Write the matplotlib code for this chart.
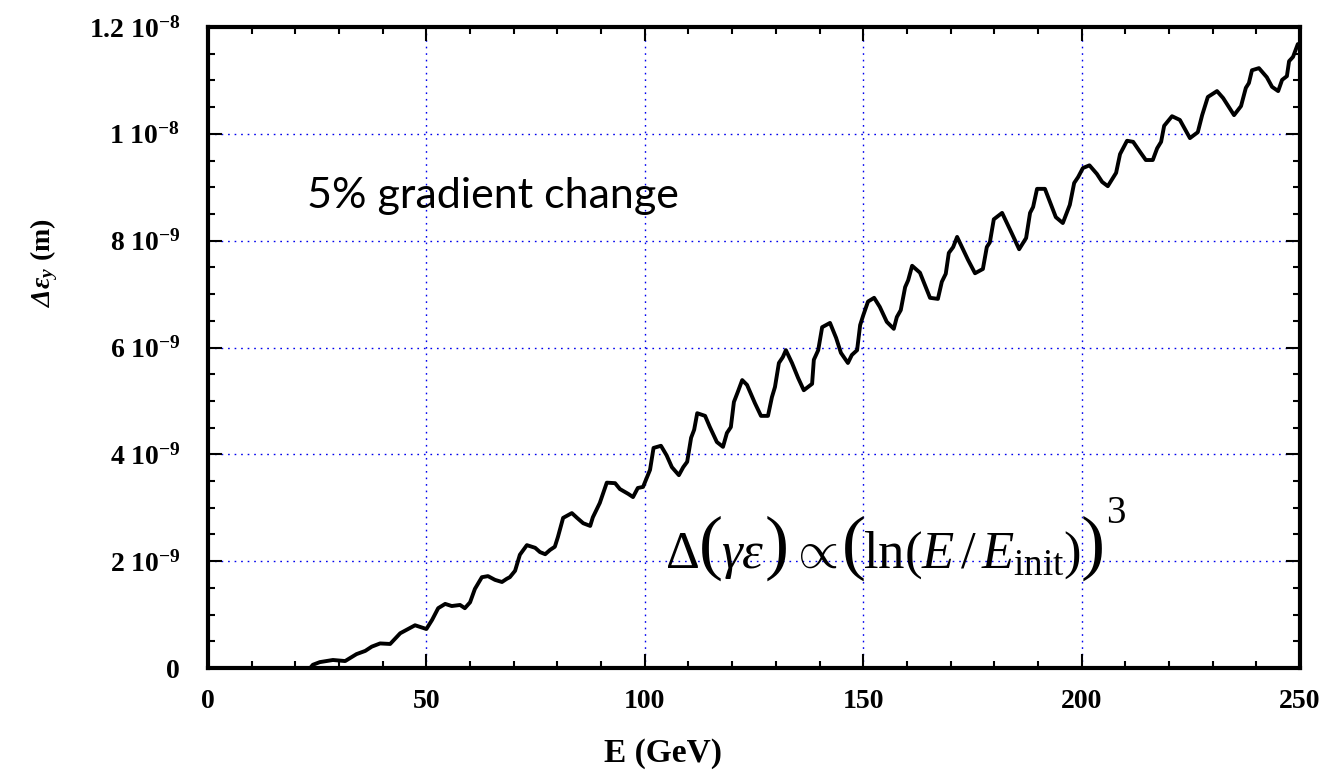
import matplotlib
matplotlib.use("Agg")
import matplotlib.pyplot as plt
from matplotlib.ticker import MultipleLocator, FixedLocator, FixedFormatter

# ---------------- data ----------------
energy_gev = [
    0, 17.6, 23.4, 24.0, 25.6, 28.6, 31.4, 34.0, 36.0, 37.5,
    39.4, 41.7, 44.0, 45.8, 47.4, 50.0, 51.3, 52.7, 54.3, 55.8,
    57.7, 58.8, 60.0, 61.1, 62.7, 64.1, 65.7, 67.3, 68.4, 69.1,
    70.3, 71.4, 73.0, 74.9, 76.0, 77.2, 78.3, 79.4, 80.1, 81.3,
    83.3, 84.5, 85.9, 87.5, 88.1, 89.7, 91.3, 93.2, 94.3, 96.2,
    97.3, 98.4, 99.6, 101.2, 102.0, 103.7, 105.0, 106.2, 107.8, 108.8,
    109.7, 110.6, 111.3, 112.0, 113.8, 114.9, 116.5, 117.9, 118.8, 119.7,
    120.4, 121.3, 122.3, 123.4, 125.2, 126.6, 128.2, 129.1, 129.8, 130.7,
    131.6, 132.3, 133.7, 135.1, 136.4, 138.3, 138.7, 139.7, 140.6, 142.4,
    143.8, 144.9, 146.5, 147.4, 148.6, 149.3, 150.0, 151.1, 152.5, 153.8,
    155.4, 157.0, 157.7, 158.6, 159.6, 160.3, 161.2, 163.0, 165.3, 167.1,
    168.0, 168.9, 169.6, 170.6, 171.5, 174.0, 175.6, 177.4, 178.3, 179.0,
    179.9, 181.8, 184.0, 185.7, 187.3, 188.2, 188.9, 189.8, 191.6, 194.1,
    195.7, 197.3, 198.3, 199.2, 200.3, 201.8, 203.5, 204.7, 206.0, 207.9,
    208.8, 210.4, 211.8, 213.4, 214.7, 216.3, 217.3, 218.2, 218.9, 220.7,
    222.5, 224.8, 226.6, 227.6, 228.9, 231.0, 232.4, 234.9, 236.5, 237.6,
    238.3, 239.0, 240.6, 242.4, 243.6, 245.0, 245.9, 247.0, 247.5, 248.4,
    249.5, 250.0,
]

# emittance growth in units of 1e-9 m
d_emit_1e9 = [
    0, 0.0, 0.0, 0.06, 0.11, 0.15, 0.13, 0.26, 0.32, 0.40,
    0.46, 0.45, 0.65, 0.73, 0.80, 0.73, 0.90, 1.12, 1.20, 1.16,
    1.18, 1.12, 1.23, 1.48, 1.70, 1.72, 1.65, 1.61, 1.67, 1.70,
    1.82, 2.12, 2.30, 2.25, 2.17, 2.13, 2.21, 2.27, 2.45, 2.81,
    2.90, 2.81, 2.71, 2.66, 2.82, 3.09, 3.47, 3.46, 3.35, 3.26,
    3.20, 3.37, 3.39, 3.71, 4.12, 4.16, 3.98, 3.76, 3.61, 3.76,
    3.86, 4.31, 4.46, 4.77, 4.72, 4.51, 4.23, 4.14, 4.40, 4.51,
    4.98, 5.17, 5.39, 5.30, 4.96, 4.72, 4.72, 5.07, 5.26, 5.71,
    5.82, 5.95, 5.71, 5.43, 5.20, 5.32, 5.77, 5.95, 6.38, 6.46,
    6.18, 5.90, 5.71, 5.86, 5.95, 6.42, 6.60, 6.86, 6.93, 6.76,
    6.48, 6.35, 6.57, 6.70, 7.13, 7.26, 7.53, 7.40, 6.93, 6.91,
    7.23, 7.38, 7.77, 7.88, 8.07, 7.64, 7.39, 7.47, 7.88, 7.97,
    8.40, 8.52, 8.14, 7.84, 8.05, 8.52, 8.63, 8.97, 8.97, 8.44,
    8.33, 8.67, 9.08, 9.19, 9.36, 9.41, 9.25, 9.10, 9.02, 9.27,
    9.62, 9.87, 9.85, 9.66, 9.51, 9.51, 9.73, 9.85, 10.15, 10.33,
    10.26, 9.92, 10.03, 10.35, 10.69, 10.80, 10.67, 10.35, 10.52, 10.86,
    10.95, 11.19, 11.23, 11.06, 10.88, 10.80, 11.01, 11.08, 11.36, 11.44,
    11.68, 11.68,
]
d_emit = [v * 1e-9 for v in d_emit_1e9]

x_ticks = [0, 50, 100, 150, 200, 250]
x_tick_labels = ["0", "50", "100", "150", "200", "250"]
y_ticks = [0, 2e-9, 4e-9, 6e-9, 8e-9, 1e-8, 1.2e-8]
y_tick_labels = [r"$\mathbf{0}$", r"$\mathbf{2\ 10^{-9}}$", r"$\mathbf{4\ 10^{-9}}$",
                 r"$\mathbf{6\ 10^{-9}}$", r"$\mathbf{8\ 10^{-9}}$",
                 r"$\mathbf{1\ 10^{-8}}$", r"$\mathbf{1.2\ 10^{-8}}$"]

# formula pieces: (text, font size, baseline y in px, gap after in px)
formula_pieces = [
    (r"$\Delta$", 38, 568, 0),
    ("(", 52, 566, -2),
    (r"$\gamma\varepsilon$", 38, 568, 0),
    (")", 52, 566, 2),
    (r"$\propto$", 38, 568, 4),
    ("(", 52, 566, -3),
    (r"$\ln(E\,/\,E_{\mathrm{init}})$", 38, 568, -1),
    (")", 52, 566, 2),
    ("3", 28, 523, 0),
]

# ---------------- style ----------------
plt.rcParams["font.family"] = ["Liberation Serif", "DejaVu Serif"]
plt.rcParams["mathtext.fontset"] = "custom"
plt.rcParams["mathtext.rm"] = "Liberation Serif"
plt.rcParams["mathtext.it"] = "Liberation Serif:italic"
plt.rcParams["mathtext.bf"] = "Liberation Serif:bold"
plt.rcParams["mathtext.bfit"] = "Liberation Serif:italic:bold"

W, H = 1325, 776
fig = plt.figure(figsize=(W / 100, H / 100), dpi=100)
ax = fig.add_axes([208 / W, 1 - 668 / H, (1300 - 208) / W, (668 - 27) / H])

ax.plot(energy_gev, d_emit, color="black", lw=2.8, solid_joinstyle="round", zorder=3)

ax.set_xlim(0, 250)
ax.set_ylim(0, 1.2e-8)

ax.xaxis.set_major_locator(FixedLocator(x_ticks))
ax.xaxis.set_major_formatter(FixedFormatter(x_tick_labels))
ax.xaxis.set_minor_locator(MultipleLocator(10))
ax.yaxis.set_major_locator(FixedLocator(y_ticks))
ax.yaxis.set_major_formatter(FixedFormatter(y_tick_labels))
ax.yaxis.set_minor_locator(MultipleLocator(0.5e-9))

ax.tick_params(which="both", direction="in", top=True, right=True, width=1.5)
ax.tick_params(which="major", length=10, labelsize=20)
ax.tick_params(axis="x", which="major", pad=15)
ax.tick_params(axis="y", which="major", pad=20)
ax.tick_params(which="minor", length=5)
for lab in ax.get_xticklabels():
    lab.set_fontweight("bold")

for sp in ax.spines.values():
    sp.set_linewidth(3)

ax.grid(True, which="major", color="#0000ee", linestyle=(0, (1.2, 3.5)), linewidth=1.0)

ax.set_xlabel("E (GeV)", fontsize=24, fontweight="bold")
ax.xaxis.set_label_coords((663 - 208) / 1092, (668 - 738) / 641)
ax.set_ylabel(r"$\mathbfit{\Delta\varepsilon}_{\mathbfit{y}}$ (m)", fontsize=20, fontweight="bold")
ax.yaxis.set_label_coords((60 - 208) / 1092, (668 - 263) / 641)

ax.text(65.2, 8.84e-9, "5% gradient change", fontsize=31, family=["Lato", "DejaVu Sans"],
        ha="center", va="center")

# lay out the formula piece by piece (larger outer parentheses)
renderer = fig.canvas.get_renderer()
xpos = 665.0
for txt, fs, yb, gap in formula_pieces:
    t = fig.text(xpos / W, 1 - yb / H, txt, fontsize=fs, ha="left", va="baseline")
    bb = t.get_window_extent(renderer)
    xpos = bb.x1 + gap

fig.savefig("out.png", dpi=100)
